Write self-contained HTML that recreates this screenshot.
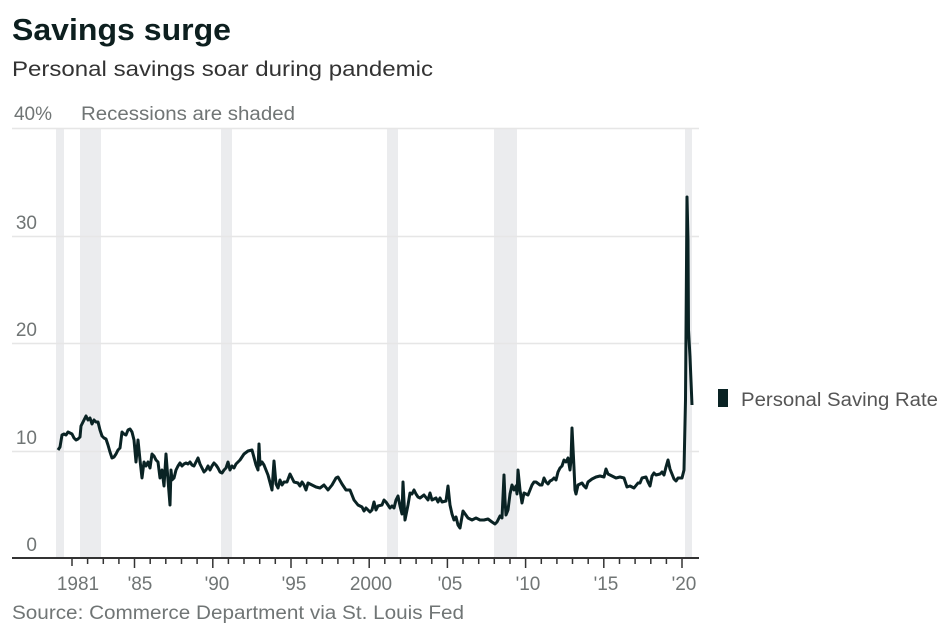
<!DOCTYPE html>
<html><head><meta charset="utf-8"><style>
body{margin:0;background:#fff;width:952px;height:624px;overflow:hidden}
svg{display:block;font-family:"Liberation Sans",sans-serif}
</style></head><body>
<svg width="952" height="624" viewBox="0 0 952 624">
<text x="12" y="40" font-size="31" font-weight="bold" fill="#0d1f1f" textLength="219" lengthAdjust="spacingAndGlyphs">Savings surge</text>
<text x="12" y="76" font-size="21" fill="#333" textLength="421" lengthAdjust="spacingAndGlyphs">Personal savings soar during pandemic</text>
<g fill="#ebecee">
<rect x="56" y="129" width="8" height="429"/>
<rect x="80" y="129" width="21" height="429"/>
<rect x="221" y="129" width="11" height="429"/>
<rect x="387" y="129" width="11" height="429"/>
<rect x="494" y="129" width="23" height="429"/>
<rect x="685" y="129" width="7" height="429"/>
</g>
<g stroke="#e6e6e6" stroke-width="1.5">
<line x1="12" x2="699" y1="128.5" y2="128.5"/>
<line x1="12" x2="699" y1="236.5" y2="236.5"/>
<line x1="12" x2="699" y1="343.5" y2="343.5"/>
<line x1="12" x2="699" y1="451.5" y2="451.5"/>
</g>
<g font-size="19" fill="#707575">
<text x="14" y="120" textLength="38" lengthAdjust="spacingAndGlyphs">40%</text>
<text x="81" y="120" textLength="214" lengthAdjust="spacingAndGlyphs">Recessions are shaded</text>
<text x="37" y="229" text-anchor="end">30</text>
<text x="37" y="336" text-anchor="end">20</text>
<text x="37" y="444" text-anchor="end">10</text>
<text x="37" y="551" text-anchor="end">0</text>
</g>
<polyline fill="none" stroke="#0a2324" stroke-width="3" stroke-linejoin="round" points="58,450 60,447 62,435 64,434 66,435 68,432 70,433 72,434 74,438 76,440 78,439 80,437 81,426 84,420 86,416 88,420 90,418 92,424 94,420 96,422 98,422 100,430 102,436 104,438 106,439 108,445 110,452 112,458 114,457 116,454 118,450 120,448 122,432 124,434 126,435 128,430 130,429 132,432 134,440 136,462 138,440 140,460 142,478 144,462 146,466 148,462 150,468 152,454 154,456 156,460 158,462 160,478 162,470 164,486 166,454 168,480 170,505 171,470 172,480 174,478 176,470 178,466 180,463 182,466 184,464 186,463 188,464 190,462 192,465 194,466 196,462 198,458 200,464 202,468 204,472 206,470 208,466 210,470 212,466 214,463 216,465 218,468 220,472 222,473 224,470 226,468 228,462 230,470 232,466 234,468 236,464 238,462 240,460 244,454 248,451 252,450 256,465 258,470 259,444 260,465 262,462 264,465 268,475 272,490 274,461 276,484 278,488 280,480 282,485 284,482 287,482 290,474 294,482 298,483 300,486 302,482 304,485 306,490 308,483 312,485 316,487 320,488 324,485 328,490 332,485 336,478 338,477 342,484 346,490 350,490 354,500 358,505 362,507 364,511 366,508 370,512 372,510 374,502 376,510 378,506 382,505 384,500 386,502 388,505 390,508 392,506 394,508 396,500 398,496 400,506 402,514 403,482 405,520 408,505 410,493 412,494 414,490 416,494 418,497 420,498 424,495 428,500 430,493 432,500 436,498 438,502 440,498 442,502 446,501 448,486 450,505 452,514 454,520 456,517 458,525 460,528 463,511 468,518 472,520 476,518 480,520 484,520 488,519 492,522 495,524 497,522 500,516 502,518 504,475 505,500 506,515 508,510 510,494 512,485 514,490 516,486 517,494 518,470 520,490 522,503 524,493 528,495 530,490 532,485 534,482 536,482 540,485 542,485 544,478 546,482 548,484 550,481 552,480 554,478 556,480 558,472 560,468 562,466 564,460 566,462 568,458 570,470 571,460 572,428 574,468 575,490 576,494 578,485 582,483 584,486 586,488 588,482 592,479 596,477 600,476 604,477 606,469 608,474 612,476 616,478 620,477 624,478 627,487 630,486 634,488 638,483 640,483 642,478 646,477 648,482 650,486 652,476 654,473 656,475 660,474 662,472 664,475 666,467 668,460 670,469 672,474 674,479 676,481 678,478 680,478 682,478 684,470 685.5,400 687,197 688,240 688.5,330 690,357 692,405"/>
<line x1="12" x2="699" y1="558" y2="558" stroke="#333" stroke-width="2"/>
<g font-size="19" fill="#707575" text-anchor="middle">
<text x="78" y="590">1981</text>
<text x="140" y="590">'85</text>
<text x="217" y="590">'90</text>
<text x="294" y="590">'95</text>
<text x="371" y="590">2000</text>
<text x="450" y="590">'05</text>
<text x="528" y="590">'10</text>
<text x="606" y="590">'15</text>
<text x="684" y="590">'20</text>
</g>
<rect x="718" y="389" width="10" height="18" fill="#0a2324"/>
<text x="741" y="406" font-size="19" fill="#555" textLength="197" lengthAdjust="spacingAndGlyphs">Personal Saving Rate</text>
<text x="12" y="619" font-size="19" fill="#707575" textLength="452" lengthAdjust="spacingAndGlyphs">Source: Commerce Department via St. Louis Fed</text>
<g stroke="#333" stroke-width="1.5">
<line x1="72" x2="72" y1="558" y2="566"/>
<line x1="87.6" x2="87.6" y1="558" y2="564"/><line x1="103.3" x2="103.3" y1="558" y2="564"/><line x1="118.9" x2="118.9" y1="558" y2="564"/>
<line x1="134.5" x2="134.5" y1="558" y2="568"/>
<line x1="150.2" x2="150.2" y1="558" y2="564"/><line x1="165.8" x2="165.8" y1="558" y2="564"/><line x1="181.5" x2="181.5" y1="558" y2="564"/><line x1="197.1" x2="197.1" y1="558" y2="564"/>
<line x1="212.8" x2="212.8" y1="558" y2="568"/>
<line x1="228.4" x2="228.4" y1="558" y2="564"/><line x1="244" x2="244" y1="558" y2="564"/><line x1="259.7" x2="259.7" y1="558" y2="564"/><line x1="275.3" x2="275.3" y1="558" y2="564"/>
<line x1="291" x2="291" y1="558" y2="568"/>
<line x1="306.6" x2="306.6" y1="558" y2="564"/><line x1="322.3" x2="322.3" y1="558" y2="564"/><line x1="337.9" x2="337.9" y1="558" y2="564"/><line x1="353.5" x2="353.5" y1="558" y2="564"/>
<line x1="369.2" x2="369.2" y1="558" y2="568"/>
<line x1="384.8" x2="384.8" y1="558" y2="564"/><line x1="400.5" x2="400.5" y1="558" y2="564"/><line x1="416.1" x2="416.1" y1="558" y2="564"/><line x1="431.8" x2="431.8" y1="558" y2="564"/>
<line x1="447.4" x2="447.4" y1="558" y2="568"/>
<line x1="463" x2="463" y1="558" y2="564"/><line x1="478.7" x2="478.7" y1="558" y2="564"/><line x1="494.3" x2="494.3" y1="558" y2="564"/><line x1="510" x2="510" y1="558" y2="564"/>
<line x1="525.6" x2="525.6" y1="558" y2="568"/>
<line x1="541.3" x2="541.3" y1="558" y2="564"/><line x1="556.9" x2="556.9" y1="558" y2="564"/><line x1="572.5" x2="572.5" y1="558" y2="564"/><line x1="588.2" x2="588.2" y1="558" y2="564"/>
<line x1="603.8" x2="603.8" y1="558" y2="568"/>
<line x1="619.5" x2="619.5" y1="558" y2="564"/><line x1="635.1" x2="635.1" y1="558" y2="564"/><line x1="650.8" x2="650.8" y1="558" y2="564"/><line x1="666.4" x2="666.4" y1="558" y2="564"/>
<line x1="682" x2="682" y1="558" y2="568"/>
</g>
</svg>
</body></html>
